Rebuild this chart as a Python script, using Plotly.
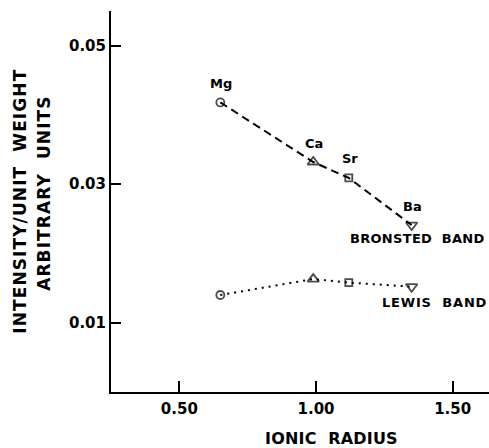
import plotly.graph_objects as go

elements = ["Mg", "Ca", "Sr", "Ba"]
ionic_radius = [0.65, 0.99, 1.12, 1.35]
bronsted = [0.0418, 0.0332, 0.0309, 0.0241]
lewis = [0.0140, 0.0163, 0.0158, 0.0152]
symbols = ["circle-open", "triangle-up-open", "square-open", "triangle-down-open"]
marker_sizes = [8, 10, 7, 10]
x_ticks = [0.5, 1.0, 1.5]
x_ticklabels = ["0.50", "1.00", "1.50"]
y_ticks = [0.01, 0.03, 0.05]
y_ticklabels = ["0.01", "0.03", "0.05"]

FONT = "DejaVu Sans"
BLACK = "black"


def spaced(text, px):
    return '<span style="letter-spacing:%spx">%s</span>' % (px, text)


fig = go.Figure()
fig.add_trace(go.Scatter(
    x=ionic_radius, y=bronsted, mode="lines+markers",
    line=dict(color=BLACK, width=2, dash="8px,5px"),
    marker=dict(symbol=symbols, size=marker_sizes, color=BLACK,
                line=dict(color=BLACK, width=1.8)),
    showlegend=False, hoverinfo="skip"))
fig.add_trace(go.Scatter(
    x=ionic_radius, y=lewis, mode="lines+markers",
    line=dict(color=BLACK, width=2, dash="2px,5px"),
    marker=dict(symbol=symbols, size=marker_sizes, color=BLACK,
                line=dict(color=BLACK, width=1.8)),
    showlegend=False, hoverinfo="skip"))

annotations = []
for name, xv, yv in zip(elements, ionic_radius, bronsted):
    annotations.append(dict(x=xv, y=yv, xref="x", yref="y", text=name,
                            showarrow=False, yshift=19, xshift=1,
                            font=dict(family=FONT, size=13, color=BLACK, weight="bold")))

annotations.append(dict(x=1.372, y=0.0221, xref="x", yref="y",
                        text=spaced("BRONSTED\u00a0\u00a0BAND", 0.3),
                        showarrow=False, xanchor="center", yanchor="middle",
                        font=dict(family=FONT, size=13, color=BLACK, weight="bold")))
annotations.append(dict(x=1.432, y=0.0129, xref="x", yref="y",
                        text=spaced("LEWIS\u00a0\u00a0BAND", 0.8),
                        showarrow=False, xanchor="center", yanchor="middle",
                        font=dict(family=FONT, size=13, color=BLACK, weight="bold")))
annotations.append(dict(x=-0.2417, y=0.501, xref="paper", yref="paper",
                        text=spaced("INTENSITY/UNIT\u00a0\u00a0WEIGHT", 1.1),
                        textangle=-90, showarrow=False,
                        xanchor="center", yanchor="middle",
                        font=dict(family=FONT, size=17, color=BLACK, weight="bold")))
annotations.append(dict(x=-0.178, y=0.522, xref="paper", yref="paper",
                        text=spaced("ARBITRARY\u00a0\u00a0UNITS", 1.1),
                        textangle=-90, showarrow=False,
                        xanchor="center", yanchor="middle",
                        font=dict(family=FONT, size=17, color=BLACK, weight="bold")))
annotations.append(dict(x=0.584, y=-0.121, xref="paper", yref="paper",
                        text=spaced("IONIC\u00a0\u00a0RADIUS", 0.2),
                        showarrow=False, xanchor="center", yanchor="middle",
                        font=dict(family=FONT, size=16, color=BLACK, weight="bold")))

fig.update_layout(
    width=489, height=448,
    margin=dict(l=111, r=0, t=11, b=56),
    paper_bgcolor="white", plot_bgcolor="white",
    annotations=annotations,
    xaxis=dict(range=[0.25, 1.633], tickvals=x_ticks, ticktext=x_ticklabels,
               ticks="inside", ticklen=11, tickwidth=2, tickcolor=BLACK,
               showline=True, linecolor=BLACK, linewidth=2, showgrid=False,
               zeroline=False, ticklabelstandoff=2,
               tickfont=dict(family=FONT, size=15, color=BLACK, weight="bold")),
    yaxis=dict(range=[0, 0.055], tickvals=y_ticks, ticktext=y_ticklabels,
               ticks="inside", ticklen=10, tickwidth=2, tickcolor=BLACK,
               showline=True, linecolor=BLACK, linewidth=2, showgrid=False,
               zeroline=False,
               tickfont=dict(family=FONT, size=15, color=BLACK, weight="bold")),
)

fig.write_html("out.html")
